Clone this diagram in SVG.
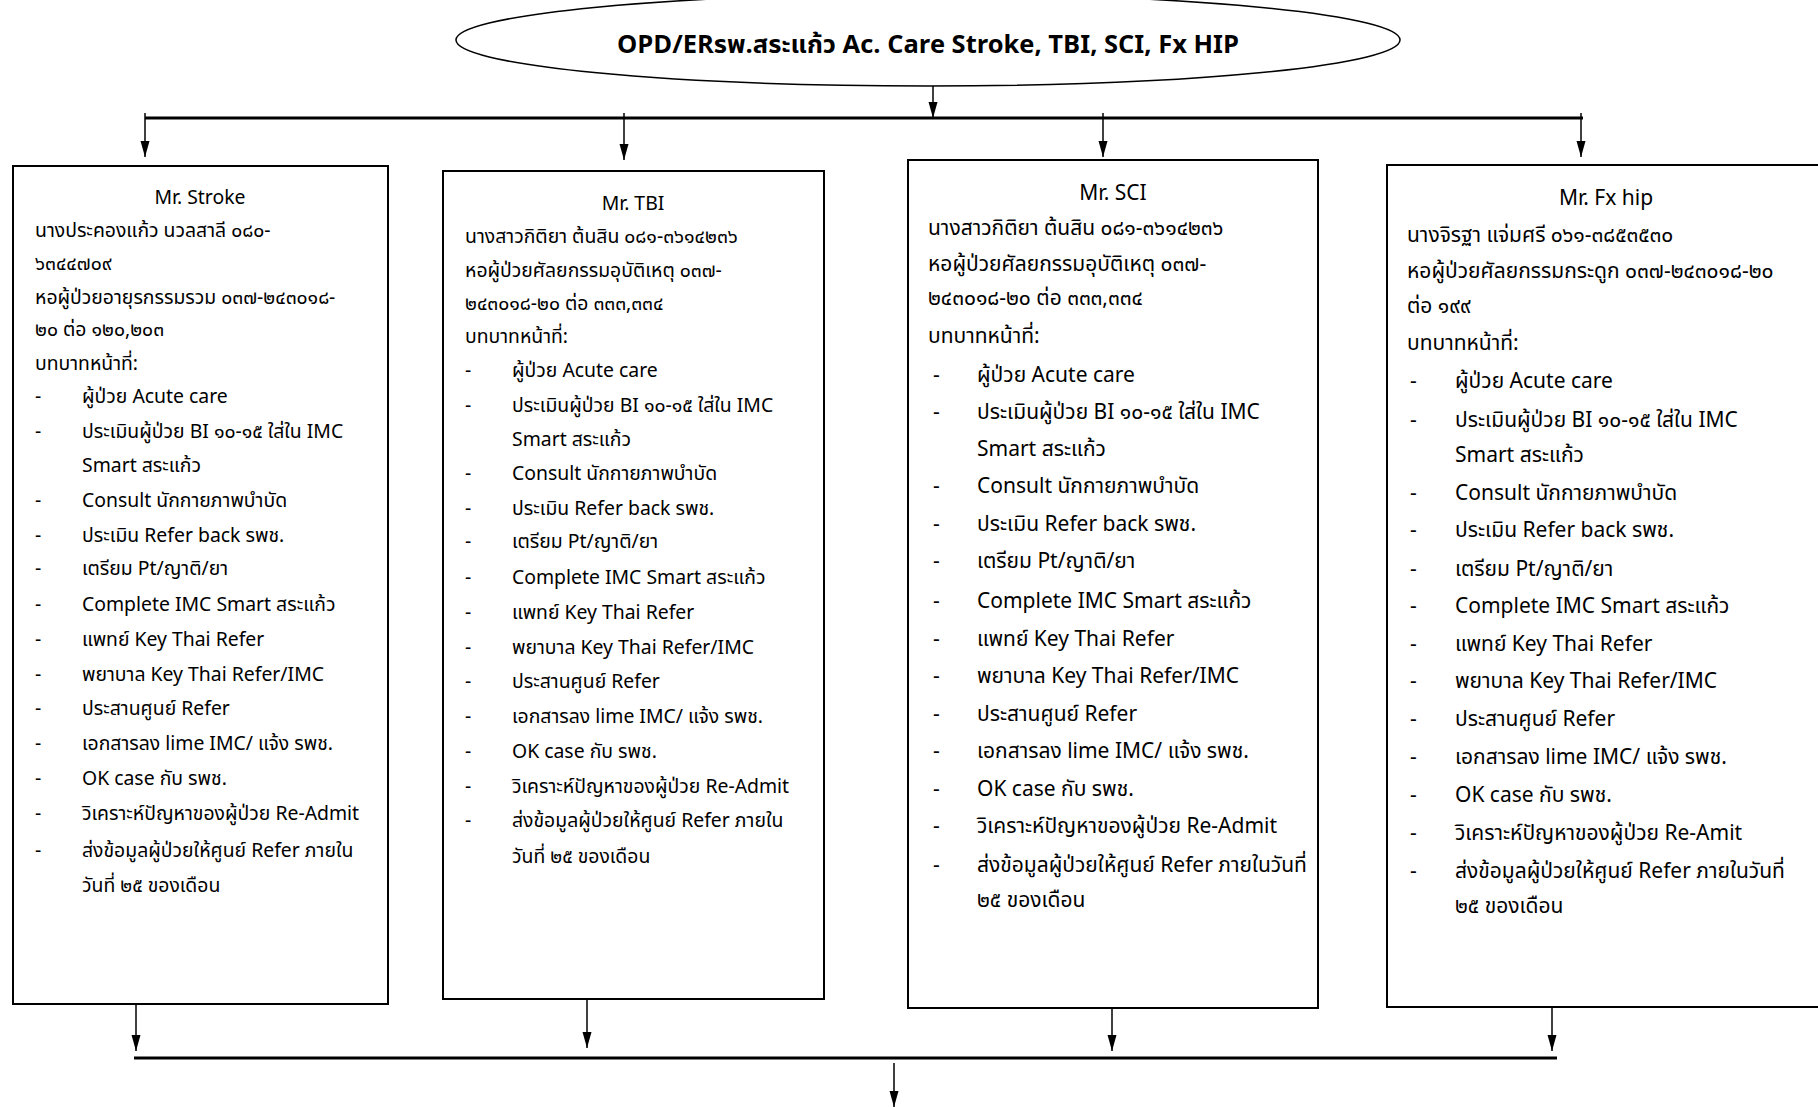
<svg xmlns="http://www.w3.org/2000/svg" width="1818" height="1107" viewBox="0 0 1818 1107">
<style>
  .t { font-family: "Noto Sans Thai", "Noto Sans", "Liberation Sans", sans-serif; fill: #000; }
  .s19 { font-size: 19.4px; }
  .s21 { font-size: 21px; }
  .c { text-anchor: middle; }
  .box { fill: #fff; stroke: #000; stroke-width: 2; }
  .ln { stroke: #000; stroke-width: 1.5; fill: none; }
  .bar { stroke: #000; stroke-width: 3; fill: none; }
  .ttl { font-size: 25.5px; font-weight: bold; text-anchor: middle; }
</style>
<defs>
  <marker id="ah" markerUnits="userSpaceOnUse" markerWidth="16" markerHeight="10" refX="16" refY="5" orient="auto">
    <path d="M0,0.5 L16,5 L0,9.5 Z" fill="#000"/>
  </marker>
</defs>
<rect width="1818" height="1107" fill="#fff"/>

<g id="connectors">
  <line class="ln" x1="933" y1="82" x2="933" y2="118" marker-end="url(#ah)"/>
  <line class="bar" x1="145" y1="118" x2="1583" y2="118"/>
  <line class="ln" x1="145" y1="113" x2="145" y2="157" marker-end="url(#ah)"/>
  <line class="ln" x1="624" y1="113" x2="624" y2="160" marker-end="url(#ah)"/>
  <line class="ln" x1="1103" y1="113" x2="1103" y2="157" marker-end="url(#ah)"/>
  <line class="ln" x1="1581" y1="113" x2="1581" y2="157" marker-end="url(#ah)"/>
  <line class="ln" x1="136" y1="1005" x2="136" y2="1051" marker-end="url(#ah)"/>
  <line class="ln" x1="587" y1="1000" x2="587" y2="1048" marker-end="url(#ah)"/>
  <line class="ln" x1="1112" y1="1008" x2="1112" y2="1051" marker-end="url(#ah)"/>
  <line class="ln" x1="1552" y1="1008" x2="1552" y2="1051" marker-end="url(#ah)"/>
  <line class="bar" x1="134" y1="1058" x2="1557" y2="1058"/>
  <line class="ln" x1="894" y1="1063" x2="894" y2="1107" marker-end="url(#ah)"/>
</g>

<g id="start">
  <ellipse cx="928" cy="40" rx="472" ry="46" fill="#fff" stroke="#000" stroke-width="1.5"/>
  <text class="t ttl" x="928" y="53">OPD/ERรพ.สระแก้ว Ac. Care Stroke, TBI, SCI, Fx HIP</text>
</g>

<g id="stroke">
  <rect class="box" x="13" y="166" width="375" height="838"/>
  <g class="t s19">
    <text class="c" x="200" y="204">Mr. Stroke</text>
    <text x="35" y="237">นางประคองแก้ว นวลสาลี ๐๘๐-</text>
    <text x="35" y="270">๖๓๔๔๗๐๙</text>
    <text x="35" y="304">หอผู้ป่วยอายุรกรรมรวม ๐๓๗-๒๔๓๐๑๘-</text>
    <text x="35" y="336">๒๐ ต่อ ๑๒๐,๒๐๓</text>
    <text x="35" y="370">บทบาทหน้าที่:</text>
    <text x="35" y="403">-</text><text x="82" y="403">ผู้ป่วย Acute care</text>
    <text x="35" y="438">-</text><text x="82" y="438">ประเมินผู้ป่วย BI ๑๐-๑๕ ใส่ใน IMC</text>
    <text x="82" y="472">Smart สระแก้ว</text>
    <text x="35" y="507">-</text><text x="82" y="507">Consult นักกายภาพบำบัด</text>
    <text x="35" y="542">-</text><text x="82" y="542">ประเมิน Refer back รพช.</text>
    <text x="35" y="575">-</text><text x="82" y="575">เตรียม Pt/ญาติ/ยา</text>
    <text x="35" y="611">-</text><text x="82" y="611">Complete IMC Smart สระแก้ว</text>
    <text x="35" y="646">-</text><text x="82" y="646">แพทย์ Key Thai Refer</text>
    <text x="35" y="681">-</text><text x="82" y="681">พยาบาล Key Thai Refer/IMC</text>
    <text x="35" y="715">-</text><text x="82" y="715">ประสานศูนย์ Refer</text>
    <text x="35" y="750">-</text><text x="82" y="750">เอกสารลง lime IMC/ แจ้ง รพช.</text>
    <text x="35" y="785">-</text><text x="82" y="785">OK case กับ รพช.</text>
    <text x="35" y="820">-</text><text x="82" y="820">วิเคราะห์ปัญหาของผู้ป่วย Re-Admit</text>
    <text x="35" y="857">-</text><text x="82" y="857">ส่งข้อมูลผู้ป่วยให้ศูนย์ Refer ภายใน</text>
    <text x="82" y="892">วันที่ ๒๕ ของเดือน</text>
  </g>
</g>

<g id="tbi">
  <rect class="box" x="443" y="171" width="381" height="828"/>
  <g class="t s19">
    <text class="c" x="633" y="210">Mr. TBI</text>
    <text x="465" y="243">นางสาวกิติยา ต้นสิน ๐๘๑-๓๖๑๔๒๓๖</text>
    <text x="465" y="277">หอผู้ป่วยศัลยกรรมอุบัติเหตุ ๐๓๗-</text>
    <text x="465" y="310">๒๔๓๐๑๘-๒๐ ต่อ ๓๓๓,๓๓๔</text>
    <text x="465" y="343">บทบาทหน้าที่:</text>
    <text x="465" y="377">-</text><text x="512" y="377">ผู้ป่วย Acute care</text>
    <text x="465" y="412">-</text><text x="512" y="412">ประเมินผู้ป่วย BI ๑๐-๑๕ ใส่ใน IMC</text>
    <text x="512" y="446">Smart สระแก้ว</text>
    <text x="465" y="480">-</text><text x="512" y="480">Consult นักกายภาพบำบัด</text>
    <text x="465" y="515">-</text><text x="512" y="515">ประเมิน Refer back รพช.</text>
    <text x="465" y="548">-</text><text x="512" y="548">เตรียม Pt/ญาติ/ยา</text>
    <text x="465" y="584">-</text><text x="512" y="584">Complete IMC Smart สระแก้ว</text>
    <text x="465" y="619">-</text><text x="512" y="619">แพทย์ Key Thai Refer</text>
    <text x="465" y="654">-</text><text x="512" y="654">พยาบาล Key Thai Refer/IMC</text>
    <text x="465" y="688">-</text><text x="512" y="688">ประสานศูนย์ Refer</text>
    <text x="465" y="723">-</text><text x="512" y="723">เอกสารลง lime IMC/ แจ้ง รพช.</text>
    <text x="465" y="758">-</text><text x="512" y="758">OK case กับ รพช.</text>
    <text x="465" y="793">-</text><text x="512" y="793">วิเคราะห์ปัญหาของผู้ป่วย Re-Admit</text>
    <text x="465" y="827">-</text><text x="512" y="827">ส่งข้อมูลผู้ป่วยให้ศูนย์ Refer ภายใน</text>
    <text x="512" y="863">วันที่ ๒๕ ของเดือน</text>
  </g>
</g>

<g id="sci">
  <rect class="box" x="908" y="160" width="410" height="848"/>
  <g class="t s21">
    <text class="c" x="1113" y="200">Mr. SCI</text>
    <text x="928" y="235">นางสาวกิติยา ต้นสิน ๐๘๑-๓๖๑๔๒๓๖</text>
    <text x="928" y="271">หอผู้ป่วยศัลยกรรมอุบัติเหตุ ๐๓๗-</text>
    <text x="928" y="305">๒๔๓๐๑๘-๒๐ ต่อ ๓๓๓,๓๓๔</text>
    <text x="928" y="343">บทบาทหน้าที่:</text>
    <text x="933" y="382">-</text><text x="977" y="382">ผู้ป่วย Acute care</text>
    <text x="933" y="419">-</text><text x="977" y="419">ประเมินผู้ป่วย BI ๑๐-๑๕ ใส่ใน IMC</text>
    <text x="977" y="456">Smart สระแก้ว</text>
    <text x="933" y="493">-</text><text x="977" y="493">Consult นักกายภาพบำบัด</text>
    <text x="933" y="531">-</text><text x="977" y="531">ประเมิน Refer back รพช.</text>
    <text x="933" y="568">-</text><text x="977" y="568">เตรียม Pt/ญาติ/ยา</text>
    <text x="933" y="608">-</text><text x="977" y="608">Complete IMC Smart สระแก้ว</text>
    <text x="933" y="646">-</text><text x="977" y="646">แพทย์ Key Thai Refer</text>
    <text x="933" y="683">-</text><text x="977" y="683">พยาบาล Key Thai Refer/IMC</text>
    <text x="933" y="721">-</text><text x="977" y="721">ประสานศูนย์ Refer</text>
    <text x="933" y="758">-</text><text x="977" y="758">เอกสารลง lime IMC/ แจ้ง รพช.</text>
    <text x="933" y="796">-</text><text x="977" y="796">OK case กับ รพช.</text>
    <text x="933" y="833">-</text><text x="977" y="833">วิเคราะห์ปัญหาของผู้ป่วย Re-Admit</text>
    <text x="933" y="872">-</text><text x="977" y="872">ส่งข้อมูลผู้ป่วยให้ศูนย์ Refer ภายในวันที่</text>
    <text x="977" y="907">๒๕ ของเดือน</text>
  </g>
</g>

<g id="fxhip">
  <rect class="box" x="1387" y="165" width="445" height="842"/>
  <g class="t s21">
    <text class="c" x="1606" y="205">Mr. Fx hip</text>
    <text x="1407" y="242">นางจิรฐา แจ่มศรี ๐๖๑-๓๘๕๓๕๓๐</text>
    <text x="1407" y="278">หอผู้ป่วยศัลยกรรมกระดูก ๐๓๗-๒๔๓๐๑๘-๒๐</text>
    <text x="1407" y="313">ต่อ ๑๙๙</text>
    <text x="1407" y="350">บทบาทหน้าที่:</text>
    <text x="1410" y="388">-</text><text x="1455" y="388">ผู้ป่วย Acute care</text>
    <text x="1410" y="427">-</text><text x="1455" y="427">ประเมินผู้ป่วย BI ๑๐-๑๕ ใส่ใน IMC</text>
    <text x="1455" y="462">Smart สระแก้ว</text>
    <text x="1410" y="500">-</text><text x="1455" y="500">Consult นักกายภาพบำบัด</text>
    <text x="1410" y="537">-</text><text x="1455" y="537">ประเมิน Refer back รพช.</text>
    <text x="1410" y="576">-</text><text x="1455" y="576">เตรียม Pt/ญาติ/ยา</text>
    <text x="1410" y="613">-</text><text x="1455" y="613">Complete IMC Smart สระแก้ว</text>
    <text x="1410" y="651">-</text><text x="1455" y="651">แพทย์ Key Thai Refer</text>
    <text x="1410" y="688">-</text><text x="1455" y="688">พยาบาล Key Thai Refer/IMC</text>
    <text x="1410" y="726">-</text><text x="1455" y="726">ประสานศูนย์ Refer</text>
    <text x="1410" y="764">-</text><text x="1455" y="764">เอกสารลง lime IMC/ แจ้ง รพช.</text>
    <text x="1410" y="802">-</text><text x="1455" y="802">OK case กับ รพช.</text>
    <text x="1410" y="840">-</text><text x="1455" y="840">วิเคราะห์ปัญหาของผู้ป่วย Re-Amit</text>
    <text x="1410" y="878">-</text><text x="1455" y="878">ส่งข้อมูลผู้ป่วยให้ศูนย์ Refer ภายในวันที่</text>
    <text x="1455" y="913">๒๕ ของเดือน</text>
  </g>
</g>
</svg>
